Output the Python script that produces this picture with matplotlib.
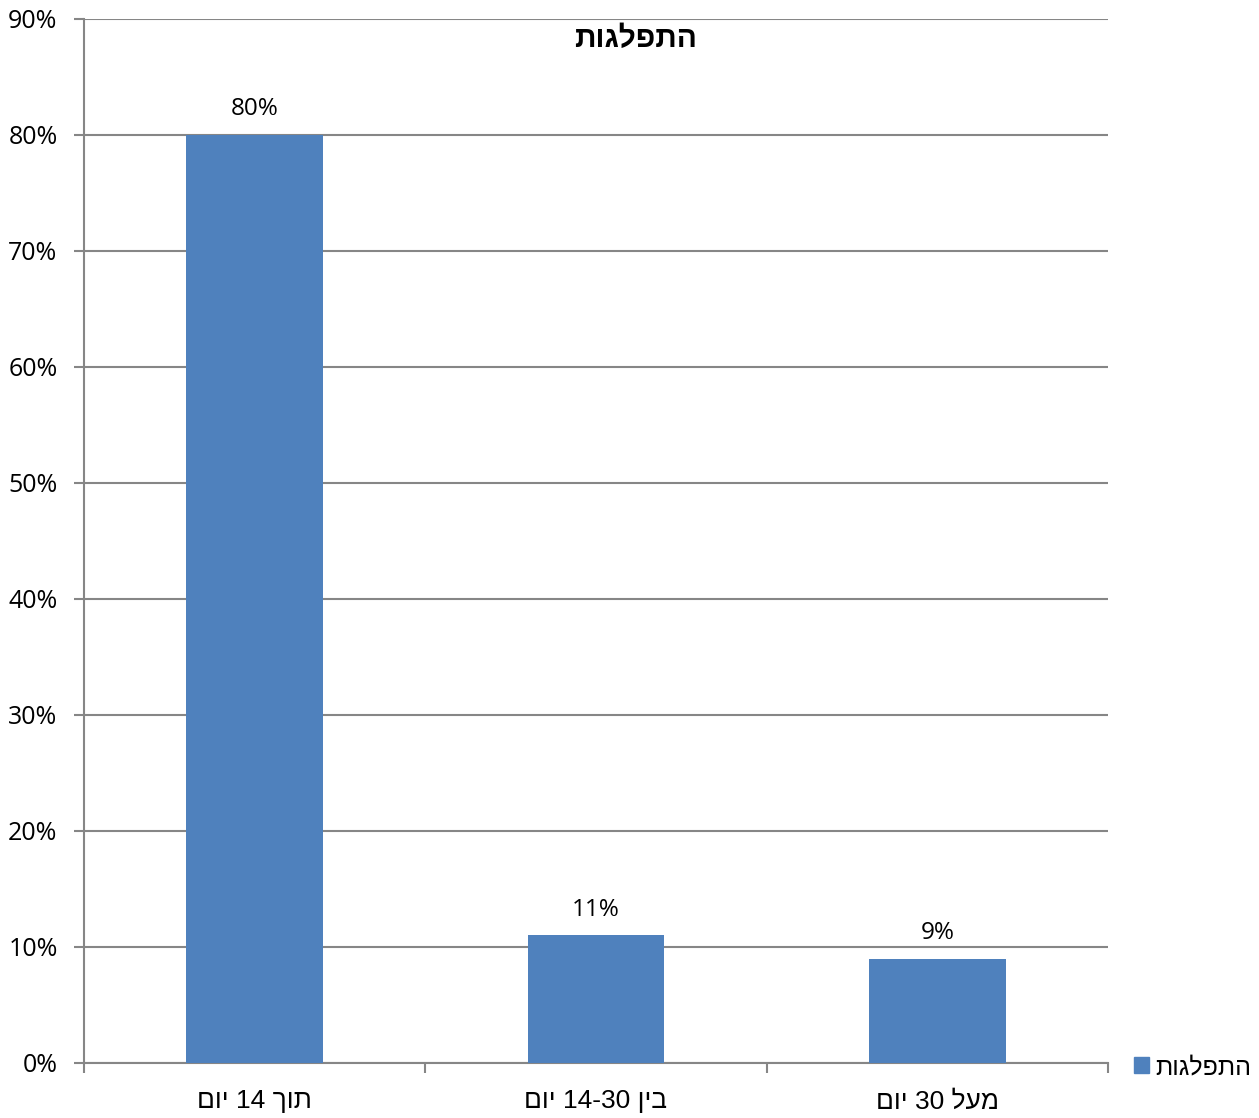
import matplotlib
matplotlib.use("Agg")
import matplotlib.pyplot as plt
from matplotlib.patches import Patch
from matplotlib.ticker import FixedLocator, PercentFormatter

plt.rcParams['font.family'] = ['Open Sans', 'Liberation Sans', 'DejaVu Sans']
HEB_FONT = ['Liberation Sans', 'DejaVu Sans']

# Chart data
categories = ["תוך 14 יום", "בין 14-30 יום", "מעל 30 יום"]
values = [80, 11, 9]
value_labels = ["80%", "11%", "9%"]
series_name = "התפלגות"
y_ticks = [0, 10, 20, 30, 40, 50, 60, 70, 80, 90]


def is_hebrew(ch):
    return '\u0590' <= ch <= '\u05FF'


def visual(text):
    """Lay out a right-to-left string for left-to-right rendering."""
    words = text.split(' ')
    out = []
    for w in reversed(words):
        if any(is_hebrew(c) for c in w):
            out.append(w[::-1])
        else:
            out.append(w)
    return ' '.join(out)


BAR = '#4F81BD'
GRID = '#868686'

fig = plt.figure(figsize=(12.59, 11.18), dpi=100)
ax = fig.add_axes([84 / 1259, 1 - 1063 / 1118, (1108 - 84) / 1259, (1063 - 19) / 1118])

x = list(range(len(categories)))
bars = ax.bar(x, values, width=0.4, color=BAR, zorder=3)

for xi, v, lab in zip(x, values, value_labels):
    ax.annotate(lab, (xi, v), xytext=(0, 10), textcoords='offset points',
                ha='center', va='bottom', fontsize=17.5, color='black')

ax.set_xlim(-0.5, len(categories) - 0.5)
ax.set_ylim(0, 90)
ax.set_yticks(y_ticks)
ax.yaxis.set_major_formatter(PercentFormatter(decimals=0))
ax.yaxis.grid(True, color=GRID, linewidth=1.5, zorder=0)

# category labels centred under bars, tick marks on category boundaries
ax.xaxis.set_major_locator(FixedLocator([i - 0.5 for i in range(len(categories) + 1)]))
ax.set_xticklabels([])
ax.xaxis.set_minor_locator(FixedLocator(x))
ax.set_xticklabels([visual(c) for c in categories], minor=True,
                   fontfamily=HEB_FONT, fontsize=19)
ax.tick_params(axis='x', which='minor', length=0, pad=19)
ax.tick_params(axis='x', which='major', length=7, width=1.5, color=GRID)
ax.tick_params(axis='y', length=7, width=1.5, color=GRID, labelsize=18, pad=12)

for side in ('top', 'right'):
    ax.spines[side].set_visible(False)
for side in ('left', 'bottom'):
    ax.spines[side].set_color(GRID)
    ax.spines[side].set_linewidth(1.5)

fig.text(636 / 1259, 1 - 39 / 1118, visual(series_name), ha='center', va='center',
         fontsize=21.5, fontweight='bold', fontfamily=HEB_FONT)

fig.legend(handles=[Patch(color=BAR, label=visual(series_name))],
           loc='center left', bbox_to_anchor=(1129 / 1259, 1 - 1067 / 1118),
           frameon=False, prop={'family': HEB_FONT, 'size': 18},
           handlelength=0.6, handleheight=0.6,
           handletextpad=0.25, borderaxespad=0, borderpad=0.2)

fig.savefig('out.png', dpi=100)
